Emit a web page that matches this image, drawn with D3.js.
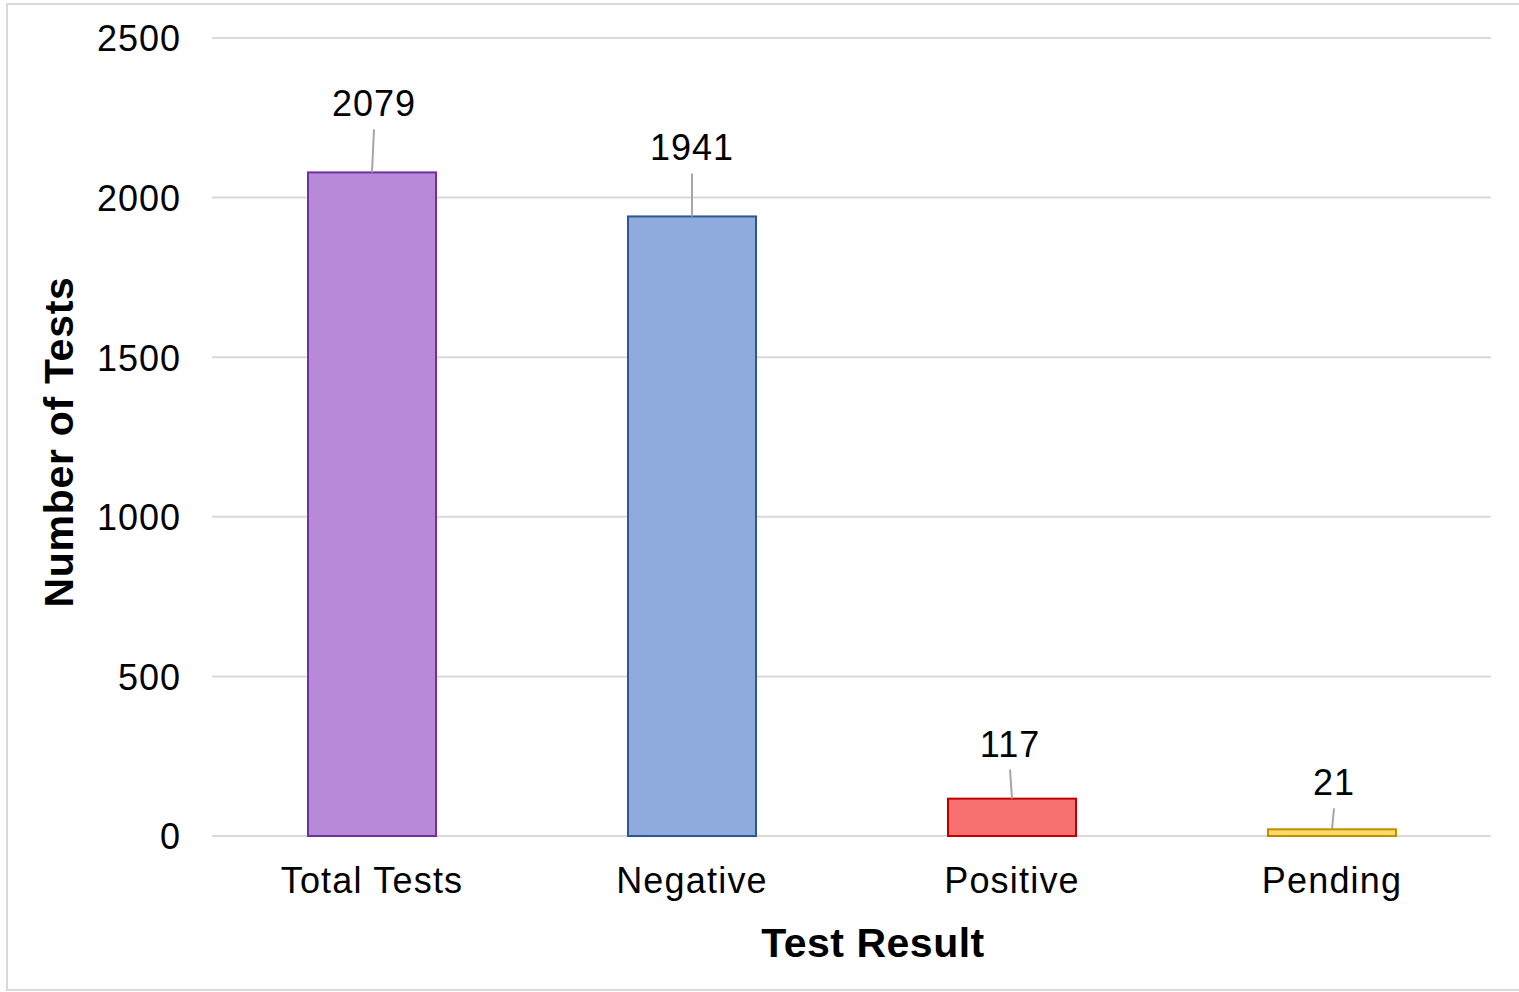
<!DOCTYPE html>
<html><head><meta charset="utf-8">
<script src="https://cdn.jsdelivr.net/npm/d3@7"></script>
<style>html,body{margin:0;padding:0;background:#fff;}svg{display:block;}</style>
</head><body>
<svg id="chart" width="1519" height="992"></svg>
<script>
const categories = ["Total Tests", "Negative", "Positive", "Pending"];
const values = [2079, 1941, 117, 21];
const yTicks = [0, 500, 1000, 1500, 2000, 2500];
const fills = ["#B689D9", "#8FAADC", "#F87171", "#FFD966"];
const strokes = ["#7030A0", "#2F5597", "#C00000", "#BF9000"];
// label lift above bar top (px) and leader-line horizontal skew, as manually placed in the original
const labelLift = [56, 56, 42, 34];
const labelShift = [2, 0, -2, 2];

(function () {
const svg = d3.select("#chart");
const font = "'Liberation Sans', Arial, sans-serif";

svg.append("rect").attr("x", 7).attr("y", 4).attr("width", 1540).attr("height", 986)
  .attr("fill", "#fff").attr("stroke", "#d9d9d9").attr("stroke-width", 2);

const mLeft = 212, mRight = 1492, mTop = 38, mBottom = 836;
const x = d3.scaleBand().domain(categories).range([mLeft, mRight]).padding(0);
const y = d3.scaleLinear().domain([0, 2500]).range([mBottom, mTop]);
const barW = x.bandwidth() * 0.4;

// gridlines
svg.append("g").selectAll("line").data(yTicks).join("line")
  .attr("x1", mLeft).attr("x2", mRight - 1)
  .attr("y1", d => y(d)).attr("y2", d => y(d))
  .attr("stroke", "#d9d9d9").attr("stroke-width", 2);

// y axis labels
const yAxis = d3.axisLeft(y).tickValues(yTicks).tickSize(0).tickPadding(0).tickFormat(d3.format("d"));
const gy = svg.append("g").attr("transform", `translate(181,0)`).call(yAxis);
gy.select(".domain").remove();
gy.selectAll("text").attr("font-family", font).attr("font-size", 36).attr("fill", "#000")
  .attr("dy", "0.36em").attr("letter-spacing", 1);

// bars
const data = categories.map((c, i) => ({c, v: values[i], i}));
svg.append("g").selectAll("rect").data(data).join("rect")
  .attr("x", d => x(d.c) + x.bandwidth() / 2 - barW / 2)
  .attr("y", d => y(d.v))
  .attr("width", barW)
  .attr("height", d => y(0) - y(d.v))
  .attr("fill", d => fills[d.i])
  .attr("stroke", d => strokes[d.i])
  .attr("stroke-width", 2);

// leader lines
svg.append("g").selectAll("line").data(data).join("line")
  .attr("x1", d => x(d.c) + x.bandwidth() / 2 + labelShift[d.i])
  .attr("y1", d => y(d.v) - labelLift[d.i] + 13)
  .attr("x2", d => x(d.c) + x.bandwidth() / 2)
  .attr("y2", d => y(d.v))
  .attr("stroke", "#a6a6a6").attr("stroke-width", 2);

// value labels
svg.append("g").selectAll("text").data(data).join("text")
  .attr("x", d => x(d.c) + x.bandwidth() / 2 + labelShift[d.i])
  .attr("y", d => y(d.v) - labelLift[d.i])
  .attr("text-anchor", "middle")
  .attr("font-family", font).attr("font-size", 36).attr("fill", "#000")
  .attr("letter-spacing", 1)
  .text(d => d.v);

// x axis labels
const xAxis = d3.axisBottom(x).tickSize(0).tickPadding(0);
const gx = svg.append("g").attr("transform", `translate(0,${mBottom})`).call(xAxis);
gx.select(".domain").remove();
gx.selectAll("text").attr("font-family", font).attr("font-size", 36).attr("fill", "#000")
  .attr("dy", null).attr("y", 57).attr("letter-spacing", 1.2);

// axis titles
svg.append("text").attr("x", 873).attr("y", 957).attr("text-anchor", "middle")
  .attr("font-family", font).attr("font-size", 41).attr("font-weight", "bold").attr("fill", "#000")
  .attr("letter-spacing", 0.5)
  .text("Test Result");
svg.append("text").attr("transform", "translate(73,442) rotate(-90)").attr("text-anchor", "middle")
  .attr("font-family", font).attr("font-size", 41).attr("font-weight", "bold").attr("fill", "#000")
  .attr("letter-spacing", 0.7)
  .text("Number of Tests");
})();
</script>
</body></html>
